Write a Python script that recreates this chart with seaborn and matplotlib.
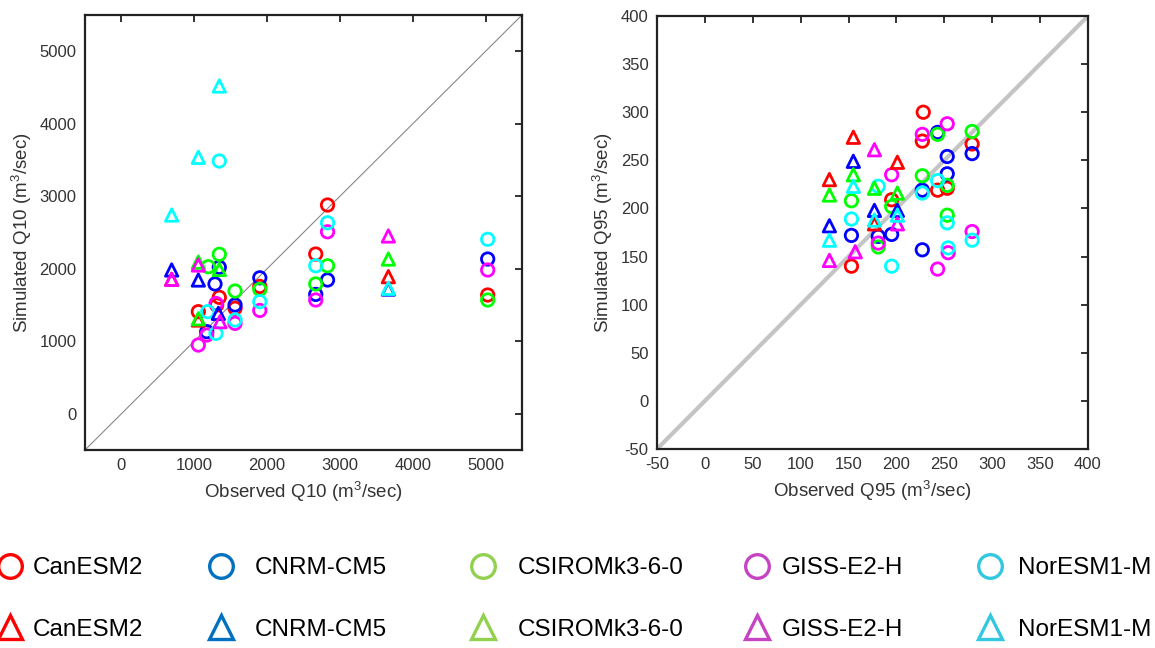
import matplotlib
matplotlib.use("Agg")
import matplotlib.pyplot as plt
import seaborn as sns
import pandas as pd
from matplotlib.lines import Line2D

sns.set_theme(style="white")
plt.rcParams["font.family"] = ["Liberation Sans", "DejaVu Sans"]
plt.rcParams["mathtext.fontset"] = "custom"
plt.rcParams["mathtext.rm"] = "Liberation Sans"
plt.rcParams["axes.unicode_minus"] = False

models = ["CanESM2", "CNRM-CM5", "CSIROMk3-6-0", "GISS-E2-H", "NorESM1-M"]
data_colors = ["#ff0000", "#0000ff", "#00ff00", "#ff00ff", "#00ffff"]
legend_colors = ["#ff0000", "#0070c0", "#92d050", "#c444c4", "#33c8e0"]

# ---------------- Q10 (left panel) ----------------
q10_circle_obs = {
    "CanESM2":      [1056, 1308, 1344, 1560, 1900, 2668, 2830, 5029],
    "CNRM-CM5":     [1171, 1285, 1344, 1560, 1900, 2668, 2830, 5029],
    "CSIROMk3-6-0": [1193, 1344, 1560, 1900, 2668, 2830, 5029],
    "GISS-E2-H":    [1056, 1171, 1300, 1560, 1900, 2668, 2830, 5029],
    "NorESM1-M":    [1185, 1299, 1344, 1560, 1900, 2668, 2830, 5029],
}
q10_circle_sim = {
    "CanESM2":      [1408, 1500, 1606, 1455, 1756, 2203, 2879, 1638],
    "CNRM-CM5":     [1132, 1790, 2020, 1500, 1875, 1646, 1845, 2134],
    "CSIROMk3-6-0": [2028, 2199, 1693, 1715, 1790, 2041, 1569],
    "GISS-E2-H":    [948, 1086, 1520, 1247, 1425, 1569, 2510, 1983],
    "NorESM1-M":    [1408, 1109, 3486, 1293, 1546, 2041, 2634, 2406],
}
q10_tri_obs = {
    "CanESM2":      [690, 1056, 3665],
    "CNRM-CM5":     [690, 1056, 1331, 3665],
    "CSIROMk3-6-0": [1056, 1344, 1056, 3665],
    "GISS-E2-H":    [690, 1056, 1354, 3665],
    "NorESM1-M":    [690, 1056, 1344, 3665],
}
q10_tri_sim = {
    "CanESM2":      [1854, 1293, 1891],
    "CNRM-CM5":     [1983, 1845, 1385, 1720],
    "CSIROMk3-6-0": [2090, 1990, 1310, 2134],
    "GISS-E2-H":    [1854, 2052, 1270, 2452],
    "NorESM1-M":    [2741, 3537, 4521, 1730],
}

# ---------------- Q95 (right panel) ----------------
q95_circle_obs = {
    "CanESM2":      [228, 227, 279, 243, 253, 195, 153],
    "CNRM-CM5":     [243, 279, 253, 253, 227, 153, 181, 195, 227],
    "CSIROMk3-6-0": [243, 279, 227, 253, 153, 195, 253, 181],
    "GISS-E2-H":    [253, 227, 195, 181, 279, 254, 243],
    "NorESM1-M":    [243, 227, 181, 153, 253, 279, 254, 195],
}
q95_circle_sim = {
    "CanESM2":      [300, 270, 267, 219, 221, 209, 140],
    "CNRM-CM5":     [279, 257, 254, 236, 219, 172, 171, 173, 157],
    "CSIROMk3-6-0": [277, 280, 234, 224, 208, 202, 193, 160],
    "GISS-E2-H":    [288, 277, 235, 164, 176, 154, 137],
    "NorESM1-M":    [229, 216, 223, 189, 185, 167, 159, 140],
}
q95_tri_obs = {
    "CanESM2":      [155, 201, 130, 177],
    "CNRM-CM5":     [155, 177, 201, 130],
    "CSIROMk3-6-0": [155, 177, 130, 201],
    "GISS-E2-H":    [177, 201, 130, 157],
    "NorESM1-M":    [155, 201, 177, 130],
}
q95_tri_sim = {
    "CanESM2":      [274, 248, 230, 184],
    "CNRM-CM5":     [249, 198, 198, 182],
    "CSIROMk3-6-0": [235, 221, 214, 216],
    "GISS-E2-H":    [261, 184, 146, 155],
    "NorESM1-M":    [223, 193, 188, 167],
}

q10_ticks = [0, 1000, 2000, 3000, 4000, 5000]
q95_ticks = [-50, 0, 50, 100, 150, 200, 250, 300, 350, 400]


def build_frame(c_obs, c_sim, t_obs, t_sim):
    rows = []
    for kind, obs_d, sim_d in (("circle", c_obs, c_sim), ("triangle", t_obs, t_sim)):
        for m in models:
            for o, s in zip(obs_d[m], sim_d[m]):
                rows.append({"obs": o, "sim": s, "model": m, "kind": kind})
    return pd.DataFrame(rows)


df10 = build_frame(q10_circle_obs, q10_circle_sim, q10_tri_obs, q10_tri_sim)
df95 = build_frame(q95_circle_obs, q95_circle_sim, q95_tri_obs, q95_tri_sim)

fig = plt.figure(figsize=(11.55, 6.48), dpi=100)
ax1 = fig.add_axes([85 / 1155, 1 - 450 / 648, 437 / 1155, 435 / 648])
ax2 = fig.add_axes([657 / 1155, 1 - 449 / 648, 431 / 1155, 433 / 648])

palette = dict(zip(models, data_colors))
markers = {"circle": "o", "triangle": "^"}


def draw(ax, df, lims, ticks, diag_color, diag_lw, xlabel, ylabel):
    ax.plot(lims, lims, color=diag_color, lw=diag_lw, zorder=1)
    sns.scatterplot(data=df, x="obs", y="sim", hue="model", style="kind",
                    markers=markers, palette=palette, s=80, linewidth=2,
                    legend=False, ax=ax, zorder=3)
    for coll in ax.collections:
        fc = coll.get_facecolors()
        coll.set_edgecolors(fc)
        coll.set_facecolors("none")
        coll.set_linewidths(2)
    ax.set_xlim(lims)
    ax.set_ylim(lims)
    ax.set_xticks(ticks)
    ax.set_yticks(ticks)
    ax.tick_params(direction="in", top=True, right=True, length=5, width=1.3,
                   labelsize=12, labelcolor="#333333", pad=6, color="#222222")
    for sp in ax.spines.values():
        sp.set_color("#222222")
        sp.set_linewidth(1.6)
    ax.set_xlabel(xlabel, fontsize=13.5, color="#333333", labelpad=4)
    ax.set_ylabel(ylabel, fontsize=13.5, color="#333333", labelpad=4)


draw(ax1, df10, [-500, 5500], q10_ticks, "#888888", 0.8,
     "Observed Q10 (m$^{3}$/sec)", "Simulated Q10 (m$^{3}$/sec)")
draw(ax2, df95, [-50, 400], q95_ticks, "#c4c4c4", 3.0,
     "Observed Q95 (m$^{3}$/sec)", "Simulated Q95 (m$^{3}$/sec)")

# Legend: one two-row column per model
col_marker_x = [10, 221, 483, 757, 990]
col_text_x = [33, 255, 518, 782, 1018]
fs = 17.5
fs_px = fs * 100 / 72
for i, m in enumerate(models):
    h = [Line2D([], [], ls="none", marker="o", ms=17, mfc="none",
                mec=legend_colors[i], mew=2.4),
         Line2D([], [], ls="none", marker="^", ms=17, mfc="none",
                mec=legend_colors[i], mew=2.4)]
    hl = 1.0
    pad = (col_text_x[i] - col_marker_x[i] - hl * fs_px / 2) / fs_px
    x0 = (col_marker_x[i] - hl * fs_px / 2) / 1155
    fig.legend(h, [m, m], loc="upper left", bbox_to_anchor=(x0, 1 - 557 / 648),
               frameon=False, fontsize=fs, handlelength=hl, handletextpad=pad,
               labelspacing=1.63, borderpad=0, borderaxespad=0,
               labelcolor="black")

fig.savefig("out.png", dpi=100)
